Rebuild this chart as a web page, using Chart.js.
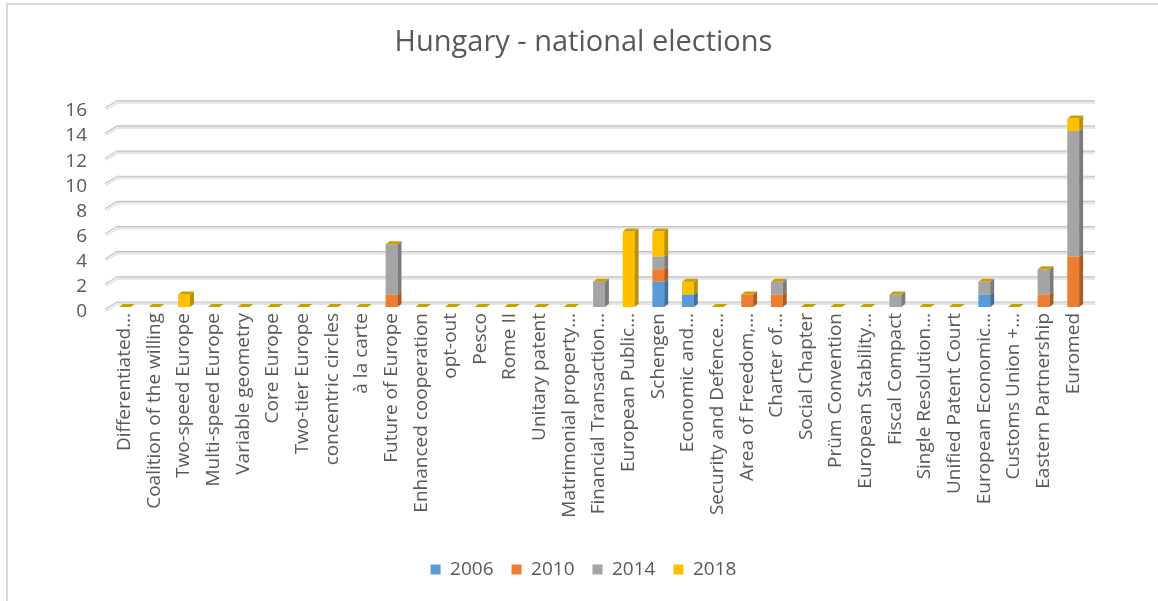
<!DOCTYPE html>
<html>
<head>
<meta charset="utf-8">
<script src="https://cdn.jsdelivr.net/npm/chart.js@4.4.1/dist/chart.umd.min.js"></script>
<style>
  html, body { margin: 0; padding: 0; background: #ffffff; }
  #wrap { position: relative; width: 1158px; height: 601px; }
  #frame { position: absolute; left: 6px; top: 3px; right: 0; bottom: 0;
           border-top: 2px solid #d9d9d9; border-left: 2px solid #d9d9d9; pointer-events: none; }
  canvas { position: absolute; left: 0; top: 0; }
</style>
</head>
<body>
<div id="wrap">
  <canvas id="chart" width="1158" height="601"></canvas>
  <div id="frame"></div>
</div>
<script>
const categories = [
  'Differentiated…', 'Coalition of the willing', 'Two-speed Europe', 'Multi-speed Europe',
  'Variable geometry', 'Core Europe', 'Two-tier Europe', 'concentric circles', 'à la carte',
  'Future of Europe', 'Enhanced cooperation', 'opt-out', 'Pesco', 'Rome II', 'Unitary patent',
  'Matrimonial property…', 'Financial Transaction…', 'European Public…', 'Schengen',
  'Economic and…', 'Security and Defence…', 'Area of Freedom,…', 'Charter of…',
  'Social Chapter', 'Prüm Convention', 'European Stability…', 'Fiscal Compact',
  'Single Resolution…', 'Unified Patent Court', 'European Economic…', 'Customs Union +…',
  'Eastern Partnership', 'Euromed'
];
const seriesNames = ['2006', '2010', '2014', '2018'];
const v2006 = [0,0,0,0,0,0,0,0,0,0, 0,0,0,0,0,0,0,0,2,1, 0,0,0,0,0,0,0,0,0,1, 0,0,0];
const v2010 = [0,0,0,0,0,0,0,0,0,1, 0,0,0,0,0,0,0,0,1,0, 0,1,1,0,0,0,0,0,0,0, 0,1,4];
const v2014 = [0,0,0,0,0,0,0,0,0,4, 0,0,0,0,0,0,2,0,1,0, 0,0,1,0,0,0,1,0,0,1, 0,2,10];
const v2018 = [0,0,1,0,0,0,0,0,0,0, 0,0,0,0,0,0,0,6,2,1, 0,0,0,0,0,0,0,0,0,0, 0,0,1];
const yTicks = [0, 2, 4, 6, 8, 10, 12, 14, 16];

const frontColors = ['#5B9BD5', '#ED7D31', '#A5A5A5', '#FFC000'];
const sideColors  = ['#41719C', '#AE5A21', '#7B7B7B', '#BF9000'];
const topColor = '#C9A000';
const TEXT = '#595959';
const FONT = '"Open Sans", Lato, sans-serif';
const DEPTH_X = 4, DEPTH_Y = 3;

// Back-wall gridlines with a short slanted lead-in on the left
const wallGrid = {
  id: 'wallGrid',
  beforeDatasetsDraw(chart) {
    const { ctx, chartArea: a, scales: { y } } = chart;
    ctx.save();
    yTicks.forEach(v => {
      const py = y.getPixelForValue(v);
      const by = py - 5;
      ctx.fillStyle = '#e6e6e6';
      ctx.fillRect(a.left + 7, by, a.right - a.left, 3);
      ctx.strokeStyle = '#c4c4c4';
      ctx.lineWidth = 1.2;
      ctx.beginPath();
      ctx.moveTo(a.left - 5, py + 2.3);
      ctx.lineTo(a.left + 7, by);
      ctx.lineTo(a.right + 7, by);
      ctx.stroke();
      ctx.strokeStyle = '#e2e2e2';
      ctx.lineWidth = 1.5;
      ctx.beginPath();
      ctx.moveTo(a.left - 4, py + 4);
      ctx.lineTo(a.left + 8, by + 2);
      ctx.stroke();
    });
    ctx.restore();
  }
};

// Side and top faces for each stacked column
const columnFaces = {
  id: 'columnFaces',
  afterDatasetsDraw(chart) {
    const { ctx } = chart;
    const metas = chart.data.datasets.map((_, i) => chart.getDatasetMeta(i));
    ctx.save();
    categories.forEach((_, idx) => {
      let top = null, xL = 0, xR = 0;
      metas.forEach((meta, di) => {
        const el = meta.data[idx];
        const val = chart.data.datasets[di].data[idx];
        const half = el.width / 2;
        xL = el.x - half; xR = el.x + half;
        if (top === null) top = el.base;
        if (val > 0) {
          ctx.fillStyle = sideColors[di];
          ctx.beginPath();
          ctx.moveTo(xR, el.y);
          ctx.lineTo(xR + DEPTH_X, el.y - DEPTH_Y);
          ctx.lineTo(xR + DEPTH_X, el.base - DEPTH_Y);
          ctx.lineTo(xR, el.base);
          ctx.closePath();
          ctx.fill();
          top = Math.min(top, el.y);
        }
      });
      ctx.fillStyle = topColor;
      ctx.beginPath();
      ctx.moveTo(xL, top);
      ctx.lineTo(xL + DEPTH_X, top - DEPTH_Y);
      ctx.lineTo(xR + DEPTH_X, top - DEPTH_Y);
      ctx.lineTo(xR, top);
      ctx.closePath();
      ctx.fill();
    });
    ctx.restore();
  }
};

const datasets = [v2006, v2010, v2014, v2018].map((values, i) => ({
  label: seriesNames[i],
  data: values,
  backgroundColor: frontColors[i],
  borderWidth: 0,
  categoryPercentage: 1,
  barPercentage: 0.4
}));

const PLOT_BOTTOM = 307;
const PAD_BOTTOM = 12;

new Chart(document.getElementById('chart'), {
  type: 'bar',
  data: { labels: categories, datasets },
  plugins: [wallGrid, columnFaces],
  options: {
    responsive: false,
    animation: false,
    layout: { padding: { left: 9, right: 0, top: 0, bottom: PAD_BOTTOM } },
    plugins: {
      title: {
        display: true,
        text: 'Hungary - national elections',
        color: TEXT,
        font: { family: FONT, size: 29, weight: 'normal' },
        padding: { top: 25, bottom: 46 }
      },
      legend: {
        position: 'bottom',
        labels: {
          color: TEXT,
          font: { family: FONT, size: 19 },
          boxWidth: 10,
          boxHeight: 10,
          padding: 18
        }
      },
      tooltip: { enabled: false }
    },
    scales: {
      x: {
        stacked: true,
        grid: { display: false, drawTicks: false },
        border: { display: false },
        ticks: {
          autoSkip: false,
          minRotation: 90,
          maxRotation: 90,
          padding: 6,
          color: TEXT,
          font: { family: FONT, size: 19 }
        },
        afterFit(scale) {
          const lg = scale.chart.legend ? scale.chart.legend.height : 0;
          scale.height = 601 - PLOT_BOTTOM - lg - PAD_BOTTOM;
        }
      },
      y: {
        stacked: true,
        min: 0,
        max: 16,
        grid: { display: false, drawTicks: false },
        border: { display: false },
        ticks: {
          stepSize: 2,
          autoSkip: false,
          padding: 23,
          labelOffset: 5,
          color: TEXT,
          font: { family: FONT, size: 19 }
        },
        afterFit(scale) { scale.width = 101; }
      },
      yRight: {
        position: 'right',
        display: true,
        grid: { display: false, drawTicks: false },
        border: { display: false },
        ticks: { display: false },
        afterFit(scale) { scale.width = 70; }
      }
    }
  }
});
</script>
</body>
</html>
